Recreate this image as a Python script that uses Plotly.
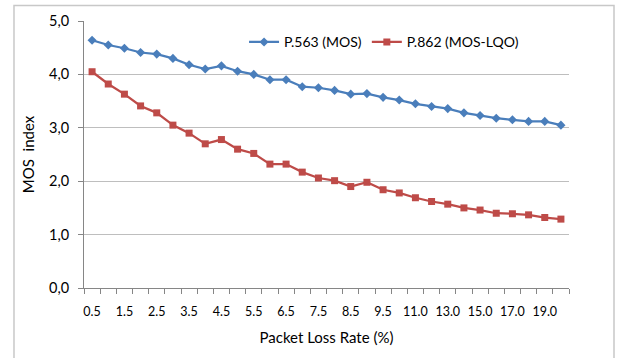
import plotly.graph_objects as go

loss_rates = ["0.5", "1.0", "1.5", "2.0", "2.5", "3.0", "3.5", "4.0", "4.5", "5.0",
              "5.5", "6.0", "6.5", "7.0", "7.5", "8.0", "8.5", "9.0", "9.5", "10.0",
              "11.0", "12.0", "13.0", "14.0", "15.0", "16.0", "17.0", "18.0", "19.0", "20.0"]
p563_mos = [4.64, 4.55, 4.49, 4.41, 4.38, 4.30, 4.18, 4.10, 4.16, 4.06,
            4.00, 3.90, 3.90, 3.77, 3.75, 3.70, 3.63, 3.64, 3.57, 3.52,
            3.45, 3.40, 3.36, 3.28, 3.23, 3.18, 3.15, 3.12, 3.12, 3.05]
p862_mos_lqo = [4.05, 3.82, 3.63, 3.41, 3.28, 3.05, 2.90, 2.70, 2.78, 2.60,
                2.52, 2.32, 2.32, 2.17, 2.06, 2.01, 1.90, 1.98, 1.84, 1.78,
                1.69, 1.62, 1.57, 1.50, 1.46, 1.40, 1.39, 1.37, 1.32, 1.29]
y_ticks = [0, 1, 2, 3, 4, 5]

idx = list(range(len(loss_rates)))
label_idx = idx[::2]
label_text = [loss_rates[i] for i in label_idx]

FONT = "Lato, Carlito, 'Open Sans', sans-serif"

fig = go.Figure()
fig.add_trace(go.Scatter(
    x=idx, y=p563_mos, name="P.563 (MOS)", mode="lines+markers",
    line=dict(color="#4A7EBB", width=2.25),
    marker=dict(symbol="diamond", size=7, color="#4A7EBB"),
))
fig.add_trace(go.Scatter(
    x=idx, y=p862_mos_lqo, name="P.862 (MOS-LQO)", mode="lines+markers",
    line=dict(color="#BE4B48", width=2.25),
    marker=dict(symbol="square", size=7, color="#BE4B48"),
))

fig.update_layout(
    width=618, height=358,
    margin=dict(l=84, r=49, t=21, b=70),
    paper_bgcolor="white", plot_bgcolor="white",
    separators=", ",
    font=dict(family=FONT, size=14, color="#000000"),
    showlegend=True,
    legend=dict(orientation="h", x=0.33, y=0.92, xanchor="left", yanchor="middle",
                font=dict(size=14), bgcolor="rgba(0,0,0,0)", itemwidth=30,
                tracegroupgap=0),
    xaxis=dict(
        range=[-0.5, len(loss_rates) - 0.5],
        tickmode="array", tickvals=label_idx, ticktext=label_text,
        ticks="", showgrid=False, zeroline=False,
        showline=True, linecolor="#868686", linewidth=1,
        tickfont=dict(size=12.5), ticklabelstandoff=12,
        minor=dict(tickmode="linear", tick0=-0.5, dtick=1, ticks="outside",
                   ticklen=5, tickcolor="#868686", tickwidth=1, showgrid=False),
        title=dict(text="Packet Loss Rate (%)", font=dict(size=15), standoff=14),
        fixedrange=True,
    ),
    yaxis=dict(
        range=[0, 5], tickmode="array", tickvals=y_ticks, tickformat=".1f",
        ticks="outside", ticklen=5, tickcolor="#868686",
        showgrid=True, gridcolor="#BEBEBE", gridwidth=1,
        zeroline=False, showline=True, linecolor="#868686", linewidth=1,
        tickfont=dict(size=14.5), ticklabelstandoff=6,
        title=dict(text="MOS  index", font=dict(size=15), standoff=10),
        fixedrange=True,
    ),
    shapes=[
        dict(type="path", xref="paper", yref="paper",
             path="M %f %f L %f %f L %f %f L %f %f" % (
                 (14 - 84) / 485, -0.3,
                 (14 - 84) / 485, (288 - 5.5) / 267,
                 (614 - 84) / 485, (288 - 5.5) / 267,
                 (614 - 84) / 485, -0.3),
             line=dict(color="#C8C8C8", width=1.5), layer="below"),
    ],
)

fig.write_html("out.html")
